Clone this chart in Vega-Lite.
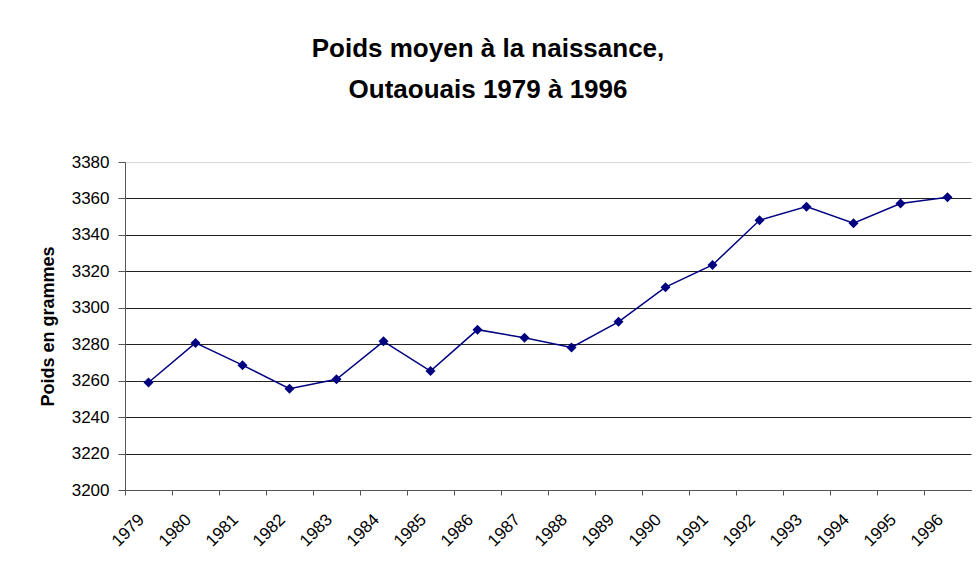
{
  "$schema": "https://vega.github.io/schema/vega-lite/v6.json",
  "autosize": "none",
  "width": 846,
  "height": 328,
  "padding": {"left": 125, "top": 162, "right": 5, "bottom": 81},
  "background": "white",
  "title": {
    "text": ["Poids moyen à la naissance,", "Outaouais 1979 à 1996"],
    "anchor": "middle",
    "dx": -60,
    "offset": 24,
    "baseline": "bottom",
    "font": "Liberation Sans",
    "fontSize": 26,
    "fontWeight": "bold",
    "lineHeight": 41,
    "color": "#000000"
  },
  "config": {
    "view": {"stroke": null},
    "axis": {
      "labelFont": "Liberation Sans",
      "titleFont": "Liberation Sans",
      "labelColor": "#000000",
      "titleColor": "#000000"
    }
  },
  "data": {
    "values": [
      {"annee": "1979", "poids": 3259},
      {"annee": "1980", "poids": 3280.7},
      {"annee": "1981", "poids": 3268.5},
      {"annee": "1982", "poids": 3255.6},
      {"annee": "1983", "poids": 3260.8},
      {"annee": "1984", "poids": 3281.6},
      {"annee": "1985", "poids": 3265.3},
      {"annee": "1986", "poids": 3288},
      {"annee": "1987", "poids": 3283.5},
      {"annee": "1988", "poids": 3278.2},
      {"annee": "1989", "poids": 3292.3},
      {"annee": "1990", "poids": 3311.3},
      {"annee": "1991", "poids": 3323.5},
      {"annee": "1992", "poids": 3348},
      {"annee": "1993", "poids": 3355.5},
      {"annee": "1994", "poids": 3346.4},
      {"annee": "1995", "poids": 3357.2},
      {"annee": "1996", "poids": 3360.7}
    ]
  },
  "encoding": {
    "x": {
      "field": "annee",
      "type": "ordinal",
      "scale": {"type": "band", "paddingInner": 0, "paddingOuter": 0},
      "axis": {
        "title": null,
        "labelAngle": -45,
        "labelFontSize": 17,
        "labelPadding": 16,
        "tickSize": 5,
        "tickColor": "#555555",
        "domainColor": "#555555",
        "bandPosition": 0,
        "labelOffset": -12.5,
        "grid": false
      }
    },
    "y": {
      "field": "poids",
      "type": "quantitative",
      "scale": {"domain": [3200, 3380], "nice": false, "zero": false},
      "axis": {
        "title": "Poids en grammes",
        "titleFontSize": 18,
        "titleFontWeight": "bold",
        "titlePadding": 14,
        "format": "d",
        "values": [3200, 3220, 3240, 3260, 3280, 3300, 3320, 3340, 3360, 3380],
        "labelFontSize": 17,
        "labelPadding": 9,
        "tickSize": 7,
        "tickColor": "#555555",
        "domainColor": "#555555",
        "grid": true,
        "gridColor": {"condition": {"test": "datum.value === 3380", "value": "#d9d9d9"}, "value": "#222222"},
        "gridOpacity": 1,
        "gridWidth": 1
      }
    }
  },
  "layer": [
    {
      "mark": {"type": "line", "color": "#000080", "strokeWidth": 1.5}
    },
    {
      "mark": {"type": "point", "shape": "diamond", "filled": true, "color": "#000080", "size": 100, "opacity": 1}
    }
  ]
}
